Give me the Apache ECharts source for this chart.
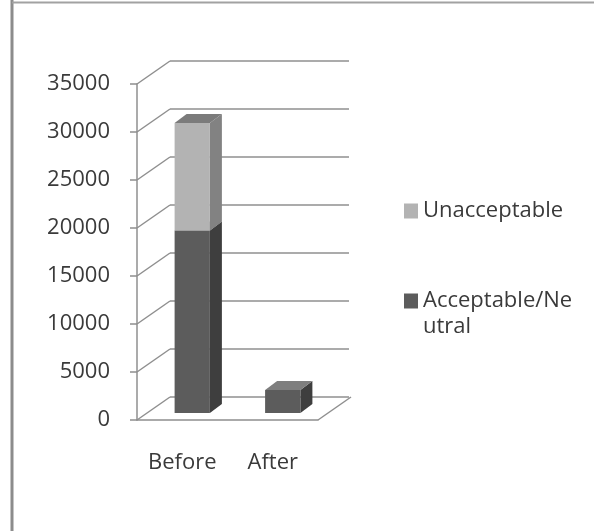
<!DOCTYPE html>
<html>
<head>
<meta charset="utf-8">
<style>
  html, body { margin: 0; padding: 0; background: #ffffff; }
  #chart { width: 594px; height: 531px; }
</style>
<script src="https://cdn.jsdelivr.net/npm/echarts@6/dist/echarts.min.js"></script>
</head>
<body>
<div id="chart"></div>
<script>
// Survey responses before and after, stacked columns
const categories = ['Before', 'After'];
const acceptableNeutral = [19000, 2400];
const unacceptable = [11200, 0];
const yTicks = [0, 5000, 10000, 15000, 20000, 25000, 30000, 35000];

const FONT = '"Open Sans"';
const TEXT = '#3a3a3a';
const LINE = '#8f8f8f';

// pseudo-3D geometry (pixels)
const WALL = [33, -23];     // front plane -> back wall
const FACE_SHIFT = [10, -7]; // front plane -> bar front face
const BAR_DEPTH = [12, -9];  // bar front face -> bar back face
const BAR_RATIO = 0.39;      // bar width as share of the category band

const shades = {
  'Acceptable/Neutral': { front: '#5c5c5c', side: '#3e3e3e', top: '#7e7e7e' },
  'Unacceptable': { front: '#b3b3b3', side: '#828282', top: '#7b7b7b' }
};

function stackedData(values, base) {
  return values.map((v, i) => [i, base ? base[i] : 0, (base ? base[i] : 0) + v]);
}

function boxRenderer(name) {
  const c = shades[name];
  return function (params, api) {
    const lo = api.value(1), hi = api.value(2);
    if (hi <= lo) return null;
    const pLo = api.coord([api.value(0), lo]);
    const pHi = api.coord([api.value(0), hi]);
    const w = api.size([1, 0])[0] * BAR_RATIO;
    const x0 = pLo[0] - w / 2 + FACE_SHIFT[0];
    const x1 = x0 + w;
    const yb = pLo[1] + FACE_SHIFT[1];
    const yt = pHi[1] + FACE_SHIFT[1];
    const dx = BAR_DEPTH[0], dy = BAR_DEPTH[1];
    return {
      type: 'group',
      children: [
        { type: 'polygon', shape: { points: [[x1, yb], [x1 + dx, yb + dy], [x1 + dx, yt + dy], [x1, yt]] },
          style: { fill: c.side } },
        { type: 'polygon', shape: { points: [[x0, yt], [x1, yt], [x1 + dx, yt + dy], [x0 + dx, yt + dy]] },
          style: { fill: c.top } },
        { type: 'rect', shape: { x: x0, y: yt, width: w, height: yb - yt },
          style: { fill: c.front } }
      ]
    };
  };
}

// connectors from the front value axis to the back wall
function renderWallLinks(params, api) {
  const cs = params.coordSys;
  const y = api.coord([0, api.value(1)])[1];
  return {
    type: 'line',
    shape: { x1: cs.x, y1: y, x2: cs.x + WALL[0], y2: y + WALL[1] },
    style: { stroke: LINE, lineWidth: 1.5 }
  };
}

// right edge of the floor
function renderFloorEdge(params, api) {
  const cs = params.coordSys;
  const y = api.coord([0, api.value(1)])[1];
  const x = cs.x + cs.width;
  return {
    type: 'line',
    shape: { x1: x, y1: y, x2: x + WALL[0], y2: y + WALL[1] },
    style: { stroke: LINE, lineWidth: 1.5 }
  };
}

// legend label: long name wraps onto a second line, first line level with the swatch
function legendLabel(name) {
  return name === 'Acceptable/Neutral' ? '\nAcceptable/Ne\nutral' : name;
}

const chart = echarts.init(document.getElementById('chart'), null, { renderer: 'canvas' });

const option = {
  animation: false,
  backgroundColor: '#ffffff',
  textStyle: { fontFamily: FONT },
  graphic: [
    { type: 'line', shape: { x1: 12, y1: 0, x2: 12, y2: 531 }, style: { stroke: '#8c8c8c', lineWidth: 3 } },
    { type: 'line', shape: { x1: 12, y1: 2.5, x2: 594, y2: 2.5 }, style: { stroke: '#a2a2a2', lineWidth: 2 } }
  ],
  grid: [
    { left: 137, top: 84, width: 181, height: 336, outerBoundsMode: 'none' },
    { left: 137 + WALL[0], top: 84 + WALL[1], width: 179, height: 336, outerBoundsMode: 'none' }
  ],
  xAxis: [
    {
      type: 'category', gridIndex: 0, data: categories,
      axisLine: { lineStyle: { color: LINE, width: 1.5 } },
      axisTick: { length: 7, lineStyle: { color: LINE, width: 1.5 } },
      axisLabel: { color: TEXT, fontSize: 22, fontFamily: FONT, margin: 32 }
    },
    {
      type: 'category', gridIndex: 1, data: categories,
      axisLine: { show: false }, axisTick: { show: false }, axisLabel: { show: false }
    }
  ],
  yAxis: [
    {
      type: 'value', gridIndex: 0, min: yTicks[0], max: yTicks[yTicks.length - 1],
      interval: yTicks[1] - yTicks[0],
      axisLine: { show: true, lineStyle: { color: LINE, width: 1.5 } },
      axisTick: { show: true, length: 7, lineStyle: { color: LINE, width: 1.5 } },
      splitLine: { show: false },
      axisLabel: { color: TEXT, fontSize: 22, fontFamily: FONT, margin: 27, formatter: v => String(v) }
    },
    {
      type: 'value', gridIndex: 1, min: yTicks[0], max: yTicks[yTicks.length - 1],
      interval: yTicks[1] - yTicks[0],
      axisLine: { show: false }, axisTick: { show: false }, axisLabel: { show: false },
      splitLine: { show: true, lineStyle: { color: LINE, width: 1.5 } }
    }
  ],
  legend: {
    orient: 'vertical',
    left: 399, top: 193,
    itemWidth: 14, itemHeight: 15, itemGap: 38,
    icon: 'rect',
    selectedMode: false,
    textStyle: { color: TEXT, fontSize: 22, fontFamily: FONT, lineHeight: 26 },
    formatter: legendLabel,
    data: ['Unacceptable', 'Acceptable/Neutral']
  },
  series: [
    {
      type: 'custom', name: 'wall-links', xAxisIndex: 0, yAxisIndex: 0, silent: true,
      data: yTicks.map(v => [0, v]), renderItem: renderWallLinks, z: 1
    },
    {
      type: 'custom', name: 'floor-edge', xAxisIndex: 0, yAxisIndex: 0, silent: true,
      data: [[0, 0]], renderItem: renderFloorEdge, z: 1
    },
    {
      type: 'custom', name: 'Acceptable/Neutral', xAxisIndex: 0, yAxisIndex: 0,
      itemStyle: { color: shades['Acceptable/Neutral'].front },
      data: stackedData(acceptableNeutral, null), renderItem: boxRenderer('Acceptable/Neutral'), z: 3
    },
    {
      type: 'custom', name: 'Unacceptable', xAxisIndex: 0, yAxisIndex: 0,
      itemStyle: { color: shades['Unacceptable'].front },
      data: stackedData(unacceptable, acceptableNeutral), renderItem: boxRenderer('Unacceptable'), z: 4
    }
  ]
};

chart.setOption(option);
</script>
</body>
</html>
